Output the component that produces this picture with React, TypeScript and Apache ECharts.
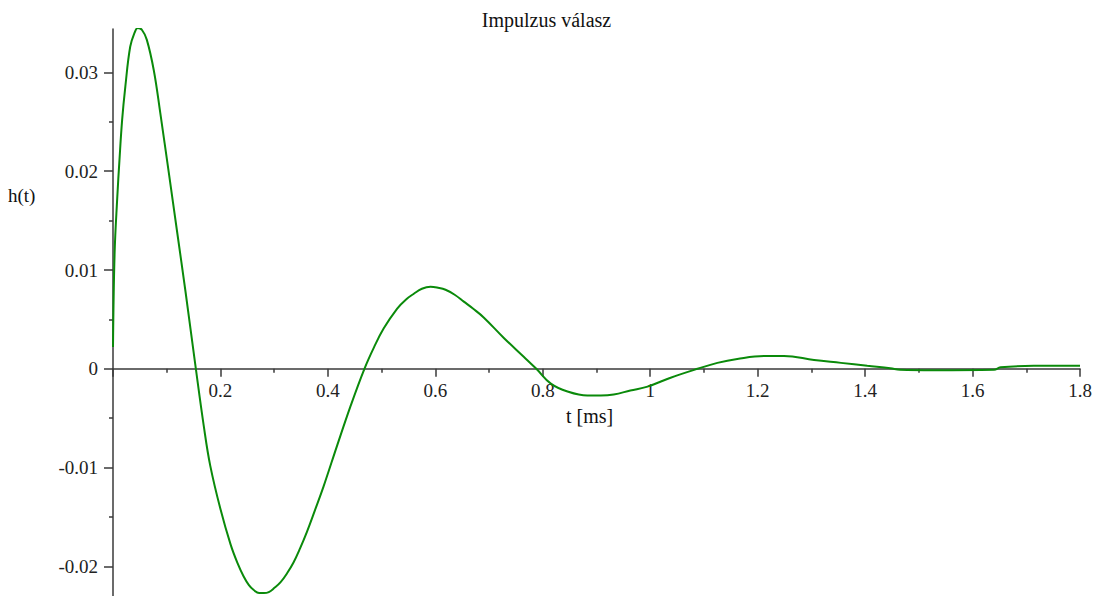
import React, { useEffect, useRef } from "react";
import * as echarts from "echarts";

const titleText = "Impulzus válasz";
const yAxisName = "h(t)";
const xAxisName = "t [ms]";

const tValues = [
  0, 0.003, 0.008, 0.012, 0.017, 0.023, 0.032, 0.04, 0.046, 0.054, 0.063, 0.076, 0.088, 0.104,
  0.119, 0.135, 0.153, 0.169, 0.181, 0.2, 0.219, 0.232, 0.243, 0.253, 0.262, 0.272, 0.281, 0.29,
  0.3, 0.312, 0.324, 0.336, 0.348, 0.361, 0.376, 0.392, 0.417, 0.442, 0.468, 0.486, 0.504, 0.529,
  0.545, 0.56, 0.575, 0.591, 0.605, 0.619, 0.636, 0.653, 0.67, 0.69,
  0.728, 0.765, 0.788, 0.815, 0.846, 0.883, 0.908, 0.932, 0.963, 0.995, 1.038, 1.088, 1.125,
  1.162, 1.212, 1.249, 1.305, 1.355, 1.404, 1.447, 1.465, 1.528, 1.64, 1.652, 1.714, 1.8,
];
const hValues = [
  0.0022, 0.0117, 0.0174, 0.0211, 0.0252, 0.0286, 0.0326, 0.0340, 0.0345, 0.0343, 0.0333, 0.0302, 0.0259, 0.0198,
  0.014, 0.0078, 0.0005, -0.0058, -0.0098, -0.0142, -0.0178, -0.0197, -0.021, -0.0219, -0.0224, -0.0227, -0.0227, -0.0226,
  -0.0222, -0.0216, -0.0207, -0.0196, -0.0182, -0.0165, -0.0143, -0.0119, -0.0078, -0.0038, 0.0, 0.0022, 0.0041, 0.0061,
  0.0070, 0.0076, 0.0081, 0.0083, 0.0082, 0.0080, 0.0075, 0.0068, 0.0061, 0.0052,
  0.0031, 0.0012, 0.0, -0.0015, -0.0023, -0.0027, -0.0027, -0.0026, -0.0022, -0.0018, -0.0009, 0.0, 0.0006,
  0.001, 0.0013, 0.0013, 0.0009, 0.0006, 0.0003, 0.00005, -0.0001, -0.00015, -0.0001, 0.00015, 0.0003, 0.0003,
];
const yMajorTicks = [-0.02, -0.01, 0, 0.01, 0.02, 0.03];
const yMinorTicks = [-0.015, -0.005, 0.005, 0.015, 0.025];

const FONT = "'Liberation Serif', 'Times New Roman', serif";
const AXIS_COLOR = "#3a3a3a";

export default function App() {
  const ref = useRef<HTMLDivElement>(null);
  useEffect(() => {
    if (!ref.current) return;
    const chart = echarts.init(ref.current, null, { renderer: "svg" });
    const data = tValues.map((t, i) => [t, hValues[i]]);
    const yMin = -0.023;
    const yMax = 0.0344;
    const gridTop = 29;
    const gridHeight = 596 - gridTop;
    const zeroOffset = -(gridHeight * (0 - yMin)) / (yMax - yMin);
    chart.setOption({
      animation: false,
      backgroundColor: "#ffffff",
      title: {
        text: titleText,
        left: "center",
        top: 5,
        textStyle: { fontFamily: FONT, fontSize: 20, fontWeight: "normal", color: "#111" },
      },
      grid: { left: 113, right: 13, top: gridTop, bottom: 0, containLabel: false, outerBoundsMode: "none" },
      xAxis: {
        type: "value",
        min: 0,
        max: 1.8,
        interval: 0.2,
        position: "bottom",
        offset: zeroOffset,
        axisLine: { show: true, onZero: false, lineStyle: { color: AXIS_COLOR, width: 1.5 } },
        axisTick: { show: true, length: 8, lineStyle: { color: AXIS_COLOR, width: 1.5 } },
        minorTick: { show: true, splitNumber: 2, length: 4, lineStyle: { color: AXIS_COLOR, width: 1.5 } },
        splitLine: { show: false },
        axisLabel: {
          margin: 12,
          fontFamily: FONT,
          fontSize: 19,
          color: "#222",
          formatter: (v: number) => (v === 0 ? "" : String(Math.round(v * 10) / 10)),
        },
      },
      yAxis: [
        {
          type: "value",
          min: yMin,
          max: yMax,
          axisLine: { show: true, onZero: false, lineStyle: { color: AXIS_COLOR, width: 1.5 } },
          axisTick: { show: true, length: 9, customValues: yMajorTicks, lineStyle: { color: AXIS_COLOR, width: 1.5 } },
          splitLine: { show: false },
          axisLabel: {
            customValues: yMajorTicks,
            margin: 15,
            fontFamily: FONT,
            fontSize: 19,
            color: "#222",
            formatter: (v: number) => String(Math.round(v * 1000) / 1000),
          },
        },
        {
          type: "value",
          min: yMin,
          max: yMax,
          position: "left",
          axisLine: { show: false, onZero: false },
          axisTick: { show: true, length: 4, customValues: yMinorTicks, lineStyle: { color: AXIS_COLOR, width: 1.5 } },
          splitLine: { show: false },
          axisLabel: { show: false },
        },
      ],
      graphic: [
        {
          type: "text",
          left: 8,
          top: 186,
          style: { text: yAxisName, fontFamily: FONT, fontSize: 19, fill: "#111" },
        },
        {
          type: "text",
          left: 566,
          top: 406,
          style: { text: xAxisName, fontFamily: FONT, fontSize: 20, fill: "#111" },
        },
      ],
      series: [
        {
          type: "line",
          data,
          xAxisIndex: 0,
          yAxisIndex: 0,
          showSymbol: false,
          smooth: 0.4,
          lineStyle: { color: "#0a8a0a", width: 2 },
          itemStyle: { color: "#0a8a0a" },
        },
      ],
    });
    return () => chart.dispose();
  }, []);
  return (
    <div
      ref={ref}
      style={{ position: "fixed", left: 0, top: 0, width: 1093, height: 596, background: "#fff" }}
    />
  );
}
